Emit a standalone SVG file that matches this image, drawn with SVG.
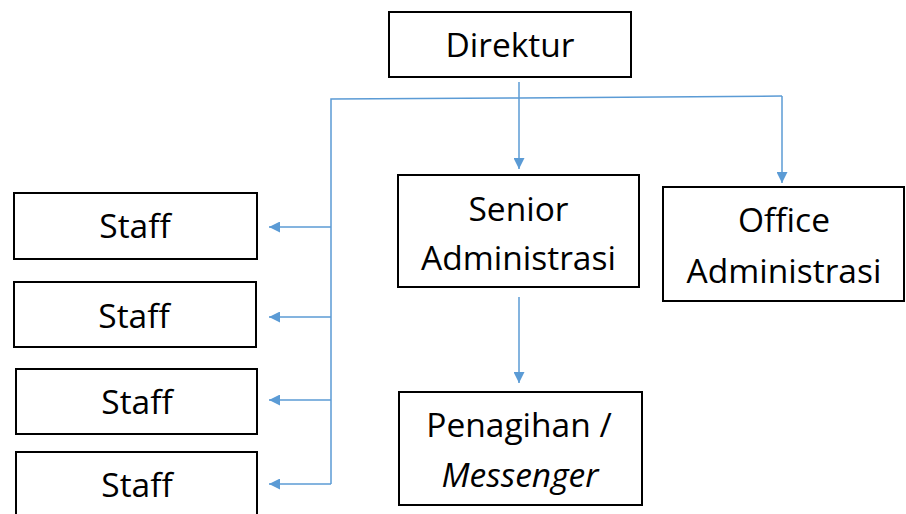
<svg xmlns="http://www.w3.org/2000/svg" width="906" height="514" viewBox="0 0 906 514">
  <style>
    .box { fill: #ffffff; stroke: #000000; stroke-width: 2; }
    .lbl { font-family: "Open Sans", "Liberation Sans", sans-serif; font-size: 33.5px; fill: #000000; text-anchor: middle; }
    .it { font-style: italic; }
    .conn { fill: none; stroke: #5B9BD5; stroke-width: 1.5; }
  </style>
  <defs>
    <marker id="arrow" viewBox="0 0 10 10" refX="10" refY="5" markerWidth="11" markerHeight="11" markerUnits="userSpaceOnUse" orient="auto">
      <path d="M0,0 L10,5 L0,10 Z" fill="#5B9BD5"/>
    </marker>
  </defs>
  <rect width="906" height="514" fill="#ffffff"/>

  <g id="connectors">
    <path class="conn" d="M331,484 L331,99 L519,98 L782,96"/>
    <path class="conn" d="M519,82 L519,169" marker-end="url(#arrow)"/>
    <path class="conn" d="M782,96 L782,183" marker-end="url(#arrow)"/>
    <path class="conn" d="M519,297 L519,383" marker-end="url(#arrow)"/>
    <path class="conn" d="M331,227 L269,227" marker-end="url(#arrow)"/>
    <path class="conn" d="M331,317 L269,317" marker-end="url(#arrow)"/>
    <path class="conn" d="M331,400 L269,400" marker-end="url(#arrow)"/>
    <path class="conn" d="M331,484 L269,484" marker-end="url(#arrow)"/>
  </g>

  <g id="direktur">
    <rect class="box" x="389" y="12" width="242" height="65"/>
    <text class="lbl" x="510" y="57">Direktur</text>
  </g>
  <g id="senior-administrasi">
    <rect class="box" x="398" y="175" width="241" height="112"/>
    <text class="lbl" x="518.5" y="221">Senior</text>
    <text class="lbl" x="518.5" y="270">Administrasi</text>
  </g>
  <g id="office-administrasi">
    <rect class="box" x="663" y="187" width="241" height="114"/>
    <text class="lbl" x="784" y="232">Office</text>
    <text class="lbl" x="784" y="283">Administrasi</text>
  </g>
  <g id="penagihan-messenger">
    <rect class="box" x="399" y="392" width="243" height="113"/>
    <text class="lbl" x="519" y="437">Penagihan /</text>
    <text class="lbl it" x="520" y="487">Messenger</text>
  </g>
  <g id="staff-1">
    <rect class="box" x="14" y="193" width="243" height="66"/>
    <text class="lbl" x="135" y="238">Staff</text>
  </g>
  <g id="staff-2">
    <rect class="box" x="14" y="282" width="242" height="65"/>
    <text class="lbl" x="134" y="328">Staff</text>
  </g>
  <g id="staff-3">
    <rect class="box" x="16" y="369" width="241" height="65"/>
    <text class="lbl" x="137" y="414">Staff</text>
  </g>
  <g id="staff-4">
    <rect class="box" x="16" y="452" width="241" height="70"/>
    <text class="lbl" x="137" y="497">Staff</text>
  </g>
</svg>
